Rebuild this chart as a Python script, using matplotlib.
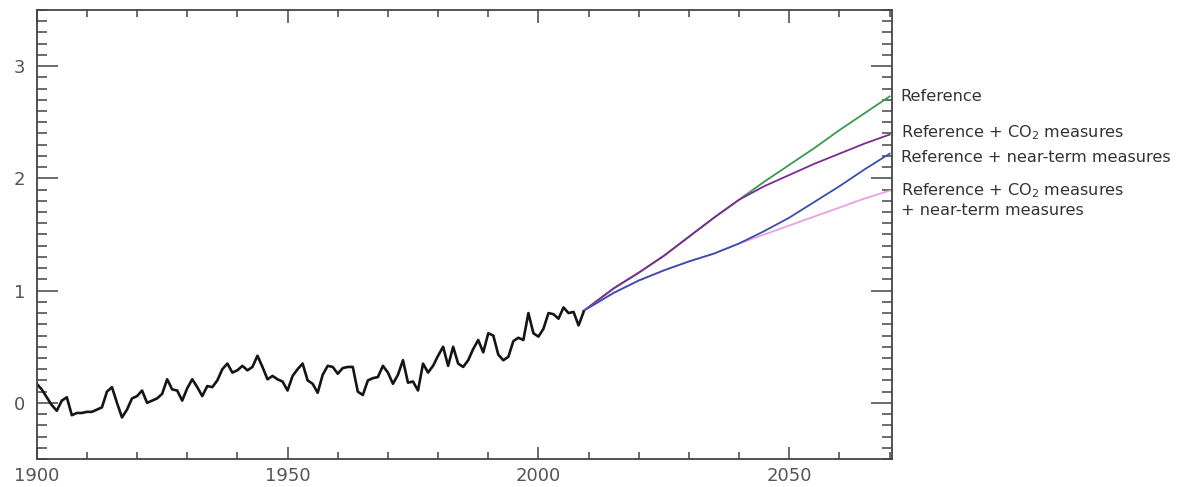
#Observed temperature record with projections for the mitigation cases
import matplotlib
matplotlib.use("Agg")
import matplotlib.pyplot as plt
from matplotlib.ticker import MultipleLocator

obsYears = list(range(1900, 2010))
obsValues = [0.17, 0.12, 0.05, -0.02, -0.07, 0.02, 0.05, -0.11, -0.09, -0.09,
             -0.08, -0.08, -0.06, -0.04, 0.10, 0.14, 0.00, -0.13, -0.06, 0.04,
             0.06, 0.11, 0.00, 0.02, 0.04, 0.08, 0.21, 0.12, 0.11, 0.02,
             0.13, 0.21, 0.14, 0.06, 0.15, 0.14, 0.20, 0.30, 0.35, 0.27,
             0.29, 0.33, 0.29, 0.32, 0.42, 0.32, 0.21, 0.24, 0.21, 0.19,
             0.11, 0.24, 0.30, 0.35, 0.20, 0.17, 0.09, 0.25, 0.33, 0.32,
             0.26, 0.31, 0.32, 0.32, 0.10, 0.07, 0.20, 0.22, 0.23, 0.33,
             0.27, 0.17, 0.25, 0.38, 0.18, 0.19, 0.11, 0.35, 0.27, 0.33,
             0.42, 0.50, 0.33, 0.50, 0.35, 0.32, 0.38, 0.48, 0.56, 0.45,
             0.62, 0.60, 0.43, 0.38, 0.41, 0.55, 0.58, 0.56, 0.80, 0.62,
             0.59, 0.66, 0.80, 0.79, 0.75, 0.85, 0.80, 0.81, 0.69, 0.81]

#Projections, 2009-2070
projYears = [2009, 2015, 2020, 2025, 2030, 2035, 2040,
             2045, 2050, 2055, 2060, 2065, 2070]
reference = [0.82, 1.02, 1.16, 1.31, 1.48, 1.65, 1.81,
             1.97, 2.12, 2.27, 2.43, 2.58, 2.73]
refCO2 = [0.82, 1.02, 1.16, 1.31, 1.48, 1.65, 1.81,
          1.93, 2.03, 2.13, 2.22, 2.31, 2.39]
refNearTerm = [0.82, 0.98, 1.09, 1.18, 1.26, 1.33, 1.42,
               1.53, 1.65, 1.79, 1.93, 2.08, 2.22]
refBoth = [0.82, 0.98, 1.09, 1.18, 1.26, 1.33, 1.42,
           1.50, 1.58, 1.66, 1.74, 1.82, 1.89]

labels = ["Reference",
          "Reference + CO$_2$ measures",
          "Reference + near-term measures",
          "Reference + CO$_2$ measures\n+ near-term measures"]
labelY = [2.73, 2.41, 2.19, 1.81]
colors = ["#3a9a4c", "#7e2a96", "#3a4db0", "#e6a3e2"]

fig = plt.figure(figsize=(11.84, 4.87), dpi=100)
ax = fig.add_axes([0.031, 0.0575, 0.7225, 0.922])

ax.plot(projYears, reference, color=colors[0], lw=1.3)
ax.plot(projYears, refCO2, color=colors[1], lw=1.3)
ax.plot(projYears, refBoth, color=colors[3], lw=1.3)
ax.plot(projYears, refNearTerm, color=colors[2], lw=1.3)
ax.plot(obsYears, obsValues, color="#151515", lw=1.9)

for text, y in zip(labels, labelY):
    ax.text(2072.2, y, text, fontsize=11.6, color="#333333", va="center",
            ha="left", linespacing=1.25, clip_on=False)

ax.set_xlim(1900, 2070.5)
ax.set_ylim(-0.5, 3.5)
ax.xaxis.set_major_locator(MultipleLocator(50))
ax.xaxis.set_minor_locator(MultipleLocator(10))
ax.yaxis.set_major_locator(MultipleLocator(1))
ax.yaxis.set_minor_locator(MultipleLocator(0.1))
ax.tick_params(which="both", direction="in", top=True, right=True,
               color="#444444", width=1.1, labelcolor="#555555", labelsize=13)
ax.tick_params(axis="y", which="major", length=15, pad=8)
ax.tick_params(axis="y", which="minor", length=7)
ax.tick_params(axis="x", which="major", length=9, pad=6)
ax.tick_params(axis="x", which="minor", length=5)
for spine in ax.spines.values():
    spine.set_color("#444444")
    spine.set_linewidth(1.3)

fig.savefig("out.png", dpi=100)
